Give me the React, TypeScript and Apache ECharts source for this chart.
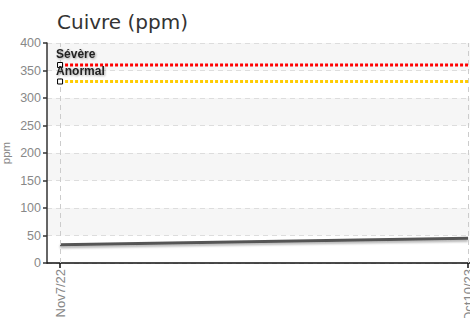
import React, { useEffect, useRef } from "react";
import * as echarts from "echarts";

const categories = ["Nov7/22", "Oct10/23"];
const copperValues = [33, 45];
const severeLimit = 360;
const abnormalLimit = 330;
const yMax = 400;
const yInterval = 50;

const LABEL_FONT = "'Liberation Sans', Arial, sans-serif";

export default function App() {
  const ref = useRef<HTMLDivElement>(null);
  useEffect(() => {
    if (!ref.current) return;
    const chart = echarts.init(ref.current, null, { renderer: "svg" });
    const xMin = -0.032;
    const xMax = 1.017;
    const limitLabel = (text: string) => ({
      show: true,
      formatter: text,
      position: [-1, -14],
      align: "left",
      verticalAlign: "top",
      fontFamily: LABEL_FONT,
      fontSize: 12,
      fontWeight: "bold",
      color: "#222",
      textShadowColor: "rgba(0,0,0,0.35)",
      textShadowBlur: 2,
      textShadowOffsetX: 1,
      textShadowOffsetY: 1,
    });
    const limitSeries = (name: string, value: number, color: string) => ({
      name,
      type: "line",
      symbol: "none",
      silent: true,
      z: 5,
      data: [
        {
          value: [0, value],
          symbol: "rect",
          symbolSize: 5,
          itemStyle: { color: "#fff", borderColor: "#000", borderWidth: 1 },
          label: limitLabel(name),
        },
        { value: [xMax, value], symbol: "none" },
      ],
      lineStyle: { color, width: 3, type: [3, 2] },
    });
    chart.setOption({
      animation: false,
      backgroundColor: "#fff",
      title: {
        text: "Cuivre (ppm)",
        left: 52,
        top: 7,
        textStyle: { fontFamily: "'DejaVu Sans', sans-serif", fontSize: 20, fontWeight: "normal", color: "#333" },
      },
      grid: { left: 47, right: 5, top: 43, bottom: 55, containLabel: false, outerBoundsMode: "none" },
      xAxis: {
        type: "value",
        min: xMin,
        max: xMax,
        axisLine: { show: true, onZero: false, lineStyle: { color: "#111", width: 1.5 } },
        axisTick: { show: true, customValues: [0, 1], length: 5, lineStyle: { color: "#111", width: 1.5 } },
        axisLabel: {
          customValues: [0, 1],
          formatter: (v: number) => categories[Math.round(v)] ?? "",
          rotate: 90,
          color: "#888",
          fontFamily: LABEL_FONT,
          fontSize: 13,
          margin: 6,
        },
        splitLine: { show: false },
      },
      yAxis: {
        type: "value",
        min: 0,
        max: yMax,
        interval: yInterval,
        name: "ppm",
        nameLocation: "middle",
        nameGap: 35,
        nameMoveOverlap: false,
        nameTextStyle: { color: "#888", fontFamily: LABEL_FONT, fontSize: 11.5 },
        axisLine: { show: true, onZero: false, lineStyle: { color: "#333", width: 1.5 } },
        axisTick: { show: true, length: 4, lineStyle: { color: "#333", width: 1.5 } },
        axisLabel: { color: "#888", fontFamily: LABEL_FONT, fontSize: 12.5, margin: 6 },
        splitLine: { show: true, lineStyle: { color: "#ddd", type: [5, 4], width: 1 } },
        splitArea: { show: true, areaStyle: { color: ["#fff", "#f6f6f6"] } },
      },
      series: [
        {
          name: "Cuivre",
          type: "line",
          symbol: "none",
          data: categories.map((_, i) => [i, copperValues[i]]),
          lineStyle: {
            color: "#555",
            width: 3,
            shadowColor: "rgba(0,0,0,0.3)",
            shadowBlur: 2,
            shadowOffsetY: 2,
          },
          z: 4,
          markLine: {
            silent: true,
            symbol: "none",
            label: { show: false },
            lineStyle: { color: "#ccc", type: [5, 4], width: 1 },
            data: categories.map((_, i) => ({ xAxis: i })),
          },
        },
        limitSeries("Sévère", severeLimit, "#ff0000"),
        limitSeries("Anormal", abnormalLimit, "#ffcc00"),
      ],
    });
    return () => chart.dispose();
  }, []);
  return (
    <div style={{ position: "fixed", left: 0, top: 0, width: 470, height: 318, overflow: "hidden", background: "#fff" }}>
      <div ref={ref} style={{ width: 480, height: 318 }} />
    </div>
  );
}
